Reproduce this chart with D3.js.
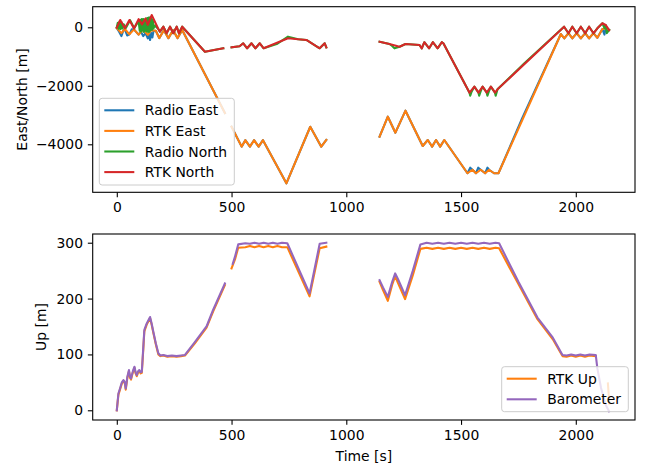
<!DOCTYPE html>
<html>
<head>
<meta charset="utf-8">
<script src="https://cdn.jsdelivr.net/npm/d3@7"></script>
<style>
  body { margin: 0; background: #fff; }
  svg { font-family: "DejaVu Sans", sans-serif; }
</style>
</head>
<body>
<svg id="chart" width="650" height="466"></svg>
<script>
// [time s, value m]; null marks a gap in the log
const radioEast = [[0,-30],[10,-150],[20,-300],[28,-120],[35,-60],[45,-280],[55,-240],[65,-70],[75,-80],[95,-250],[105,-150],[115,-300],[125,-200],[135,-380],[140,-250],[145,-434],[150,-200],[155,-350],[160,-120],[170,-120],[185,-370],[205,-100],[225,-370],[245,-100],[265,-370],[285,-90],[471,-2930],
  null,
  [500,-3400],[544,-4080],[560,-3860],[580,-4080],[598,-3860],[618,-4080],[637,-3860],[739,-5335],[843,-3400],[891,-4080],[913,-3850],
  null,
  [1145,-3740],[1181,-3056],[1214,-3603],[1258,-2851],[1333,-4058],[1355,-3853],[1374,-4080],[1391,-3853],[1409,-4080],[1427,-3853],[1528,-4990],[1540,-4800],[1550,-4870],[1565,-4990],[1575,-4800],[1586,-4870],[1605,-4990],[1615,-4800],[1622,-4870],[1644,-4990],[1663,-4990],[1767,-3100],[1935,-230],[1950,-380],[1968,-200],[1985,-380],[2004,-200],[2022,-380],[2041,-200],[2058,-380],[2077,-200],[2094,-360],[2116,-60],[2125,-250],[2130,-30],[2145,-92]];

const rtkEast = [[0,-30],[20,-200],[35,-60],[55,-240],[75,-70],[95,-250],[115,-80],[135,-260],[150,-100],[170,-120],[185,-370],[205,-100],[225,-370],[245,-100],[265,-370],[285,-90],[471,-2930],
  null,
  [500,-3400],[544,-4080],[560,-3860],[580,-4080],[598,-3860],[618,-4080],[637,-3860],[739,-5335],[843,-3400],[891,-4080],[913,-3850],
  null,
  [1145,-3740],[1181,-3056],[1214,-3603],[1258,-2851],[1333,-4058],[1355,-3853],[1374,-4080],[1391,-3853],[1409,-4080],[1427,-3853],[1528,-4990],[1550,-4870],[1565,-4990],[1586,-4870],[1605,-4990],[1622,-4870],[1644,-4990],[1663,-4990],[1935,-230],[1950,-380],[1968,-200],[1985,-380],[2004,-200],[2022,-380],[2041,-200],[2058,-380],[2077,-200],[2094,-360],[2116,-60],[2130,-30],[2145,-92]];

const radioNorth = [[0,0],[4,150],[8,-50],[12,200],[16,-60],[20,180],[25,-40],[30,100],[40,-20],[58,240],[76,-30],[95,220],[100,-120],[103,260],[106,-150],[109,280],[112,-100],[115,280],[118,-160],[121,260],[124,-120],[127,300],[130,-140],[133,320],[136,-160],[139,330],[142,-150],[145,340],[148,-100],[151,300],[154,-80],[157,250],[160,-40],[165,60],[181,-58],[188,-150],[203,20],[217,-205],[232,20],[246,-205],[261,20],[271,-205],[285,20],[384,-834],[464,-718],
  null,
  [500,-684],[535,-650],[551,-547],[568,-718],[587,-547],[604,-718],[623,-547],[640,-718],[700,-560],[746,-320],[790,-410],[826,-434],[884,-718],[906,-547],[913,-684],
  null,
  [1145,-492],[1188,-571],[1200,-640],[1210,-720],[1232,-663],[1258,-571],[1319,-605],[1329,-718],[1340,-510],[1361,-718],[1377,-510],[1398,-718],[1416,-510],[1423,-547],[1537,-2235],[1540,-2340],[1546,-2200],[1558,-2030],[1576,-2235],[1579,-2340],[1585,-2200],[1594,-2030],[1612,-2235],[1615,-2340],[1621,-2200],[1630,-2030],[1648,-2235],[1651,-2340],[1659,-2120],[1776,-1230],[1949,20],[1968,-205],[1985,20],[2004,-205],[2022,20],[2041,-205],[2058,20],[2077,-205],[2094,-34],[2116,137],[2125,-30],[2130,80],[2135,-200],[2145,-92]];

const rtkNorth = [[0,-13],[15,250],[35,-30],[55,250],[75,-40],[95,280],[110,100],[125,300],[135,80],[152,420],[181,-58],[188,-150],[203,20],[217,-205],[232,20],[246,-205],[261,20],[271,-205],[285,20],[384,-834],[464,-718],
  null,
  [500,-684],[535,-650],[551,-547],[568,-718],[587,-547],[604,-718],[623,-547],[640,-718],[746,-376],[790,-410],[826,-434],[884,-718],[906,-547],[913,-684],
  null,
  [1145,-492],[1188,-571],[1232,-663],[1258,-571],[1319,-605],[1329,-718],[1340,-510],[1361,-718],[1377,-510],[1398,-718],[1416,-510],[1423,-547],[1537,-2235],[1558,-2030],[1576,-2235],[1594,-2030],[1612,-2235],[1630,-2030],[1648,-2235],[1659,-2120],[1949,20],[1968,-205],[1985,20],[2004,-205],[2022,20],[2041,-205],[2058,20],[2077,-205],[2094,-34],[2116,137],[2130,80],[2145,-92]];

const rtkUp = [[0,0],[7,28],[14,37],[22,48],[29,53],[35,48],[39,37],[46,58],[53,70],[58,58],[62,55],[70,68],[77,76],[82,66],[87,61],[93,68],[98,70],[104,66],[109,67],[115,106],[120,141],[130,153],[145,165],[152,153],[159,139],[170,118],[181,100],[190,97],[203,98],[220,96],[240,97],[260,96],[280,97],[297,98],[340,120],[391,148],[420,177],[471,224],
  null,
  [500,254],[515,270],[529,291],[560,292],[580,294],[600,292],[620,294],[640,292],[660,294],[680,292],[700,294],[720,292],[743,292],[840,204],[884,290],[913,293],
  null,
  [1145,230],[1160,215],[1181,196],[1200,225],[1213,240],[1225,228],[1256,199],[1290,242],[1323,289],[1350,291],[1375,289],[1400,291],[1425,289],[1450,291],[1475,289],[1500,291],[1525,289],[1550,291],[1575,289],[1600,291],[1625,289],[1650,291],[1666,290],[1750,226],[1833,163],[1900,127],[1942,97],[1960,96],[1980,98],[2000,96],[2020,98],[2040,96],[2060,98],[2087,97],
  null,
  [2140,48],[2146,12]];

const barometer = [[0,0],[7,30],[14,39],[22,50],[29,54],[35,50],[39,39],[46,60],[53,72],[58,60],[62,57],[70,70],[77,78],[82,68],[87,63],[93,70],[98,72],[104,68],[109,69],[115,110],[120,144],[130,155],[145,167],[152,155],[159,141],[170,120],[181,102],[190,98],[203,99],[220,97],[240,98],[260,97],[280,98],[297,99],[340,122],[391,150],[420,180],[471,227],
  null,
  [505,262],[515,275],[529,297],[560,299],[580,298],[600,300],[620,298],[640,300],[660,298],[680,300],[700,298],[720,300],[743,299],[840,209],[884,298],[913,300],
  null,
  [1145,233],[1160,220],[1181,203],[1200,230],[1213,245],[1225,235],[1256,206],[1290,250],[1323,297],[1350,300],[1375,298],[1400,300],[1425,298],[1450,300],[1475,298],[1500,300],[1525,298],[1550,300],[1575,298],[1600,300],[1625,298],[1650,300],[1666,299],[1750,230],[1833,166],[1900,130],[1942,99],[1960,98],[1980,100],[2000,98],[2020,100],[2040,98],[2060,100],[2087,99],[2094,75],[2110,40],[2130,10],[2145,-2]];

const timeTicks = [0, 500, 1000, 1500, 2000];
const enTicks = [0, -2000, -4000];
const upTicks = [0, 100, 200, 300];

const svg = d3.select('#chart');
const fontSize = 13.9;
const tickLen = 4.86;
const fmt = d3.format('d');

const x = d3.scaleLinear()
  .domain([-105, 2258])
  .range([92.7, 635]);

function drawPanel({ top, bottom, yDomain, ticks, label, labelX, series, legend, xLabel }) {
  const y = d3.scaleLinear().domain(yDomain).range([bottom, top]);
  const g = svg.append('g');

  const line = d3.line()
    .defined(d => d !== null)
    .x(d => x(d[0]))
    .y(d => y(d[1]));

  series.forEach(s => {
    g.append('path')
      .datum(s.data)
      .attr('d', line)
      .attr('fill', 'none')
      .attr('stroke', s.color)
      .attr('stroke-width', 2.08)
      .attr('stroke-linejoin', 'round')
      .attr('stroke-linecap', 'square');
  });

  const xAxis = g.append('g')
    .attr('transform', `translate(0, ${bottom})`)
    .call(d3.axisBottom(x).tickValues(timeTicks).tickFormat(fmt).tickSize(tickLen).tickPadding(4.86));
  const yAxis = g.append('g')
    .attr('transform', `translate(${x.range()[0]}, 0)`)
    .call(d3.axisLeft(y).tickValues(ticks).tickFormat(fmt).tickSize(tickLen).tickPadding(4.86));

  [xAxis, yAxis].forEach(a => {
    a.select('.domain').remove();
    a.selectAll('line').attr('stroke', '#000').attr('stroke-width', 1.1);
    a.selectAll('text')
      .attr('fill', '#000')
      .style('font-family', '"DejaVu Sans", sans-serif')
      .style('font-size', `${fontSize}px`);
  });

  // box around the axes, matplotlib style
  g.append('rect')
    .attr('x', x.range()[0])
    .attr('y', top)
    .attr('width', x.range()[1] - x.range()[0])
    .attr('height', bottom - top)
    .attr('fill', 'none')
    .attr('stroke', '#000')
    .attr('stroke-width', 1.1);

  g.append('text')
    .attr('transform', `translate(${labelX}, ${(top + bottom) / 2}) rotate(-90)`)
    .attr('text-anchor', 'middle')
    .attr('dominant-baseline', 'central')
    .style('font-size', `${fontSize}px`)
    .text(label);

  if (xLabel) {
    g.append('text')
      .attr('x', (x.range()[0] + x.range()[1]) / 2)
      .attr('y', bottom + 41)
      .attr('text-anchor', 'middle')
      .style('font-size', `${fontSize}px`)
      .text(xLabel);
  }

  const lg = g.append('g');
  lg.append('rect')
    .attr('x', legend.x)
    .attr('y', legend.y)
    .attr('width', legend.w)
    .attr('height', legend.h)
    .attr('rx', 2.8)
    .attr('fill', '#fff')
    .attr('fill-opacity', 0.8)
    .attr('stroke', '#ccc')
    .attr('stroke-width', 1);

  series.filter(s => s.name).forEach((s, i) => {
    const cy = legend.y + 12 + i * 20.6;
    lg.append('line')
      .attr('x1', legend.x + 5)
      .attr('x2', legend.x + 35)
      .attr('y1', cy)
      .attr('y2', cy)
      .attr('stroke', s.color)
      .attr('stroke-width', 2.08);
    lg.append('text')
      .attr('x', legend.x + 45.5)
      .attr('y', cy)
      .attr('dominant-baseline', 'central')
      .style('font-size', `${fontSize}px`)
      .text(s.name);
  });
}

drawPanel({
  top: 6.7,
  bottom: 192.3,
  yDomain: [-5641, 704],
  ticks: enTicks,
  label: 'East/North [m]',
  labelX: 22,
  series: [
    { name: 'Radio East', color: '#1f77b4', data: radioEast },
    { name: 'RTK East', color: '#ff7f0e', data: rtkEast },
    { name: 'Radio North', color: '#2ca02c', data: radioNorth },
    { name: 'RTK North', color: '#d62728', data: rtkNorth },
  ],
  legend: { x: 99.3, y: 98.3, w: 135, h: 86.7 },
});

drawPanel({
  top: 234,
  bottom: 420,
  yDomain: [-17.4, 315.6],
  ticks: upTicks,
  label: 'Up [m]',
  labelX: 41,
  series: [
    { name: 'RTK Up', color: '#ff7f0e', data: rtkUp },
    { name: 'Barometer', color: '#9467bd', data: barometer },
  ],
  legend: { x: 501.7, y: 366.7, w: 126.6, h: 45 },
  xLabel: 'Time [s]',
});
</script>
</body>
</html>
